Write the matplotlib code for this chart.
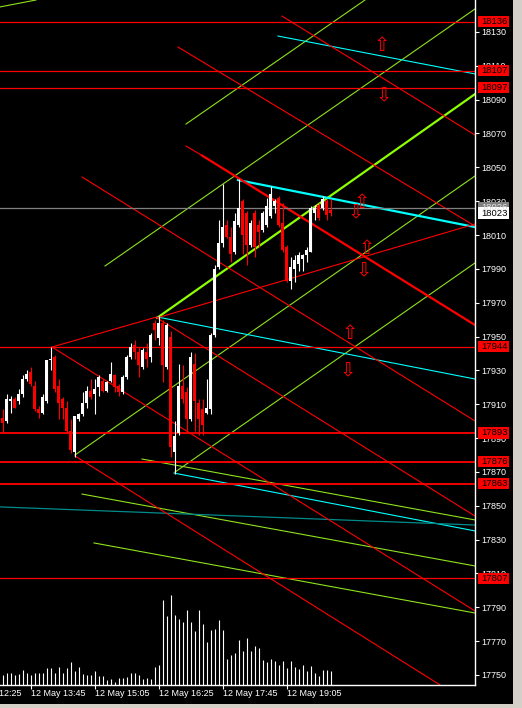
import matplotlib
matplotlib.use("Agg")
import matplotlib.pyplot as plt
from matplotlib.patches import Rectangle

plt.rcParams['font.family'] = ['Liberation Sans', 'DejaVu Sans']

# 5 minute bars, 12 May 13:10 .. 20:00
opens = [17902, 17900, 17912, 17913, 17912, 17916, 17925, 17929, 17921, 17907,
         17905, 17912, 17936, 17938, 17921, 17913, 17908, 17894, 17882, 17901,
         17904, 17911, 17918, 17916, 17920, 17924, 17918, 17924, 17927, 17921,
         17917, 17926, 17938, 17945, 17941, 17932, 17941, 17938, 17958, 17949,
         17958, 17932, 17950, 17882, 17893, 17921, 17917, 17901, 17934, 17911,
         17907, 17905, 17907, 17951, 17991, 18005, 18016, 18009, 18000, 18016,
         18030, 18023, 18004, 18023, 18016, 18013, 18016, 18021, 18027, 18032,
         18017, 18003, 17983, 17990, 17993, 17996, 17998, 18000, 18023, 18028,
         18026, 18030, 18025]
highs = [17907, 17916, 17915, 17914, 17919, 17927, 17930, 17932, 17924, 17909,
         17916, 17936, 17944, 17939, 17925, 17914, 17912, 17901, 17903, 17905,
         17917, 17921, 17925, 17925, 17927, 17925, 17924, 17935, 17928, 17922,
         17927, 17939, 17946, 17948, 17944, 17943, 17946, 17952, 17960, 17962,
         17960, 17958, 17953, 17900, 17934, 17933, 17920, 17941, 17940, 17913,
         17913, 17925, 17952, 17992, 18019, 18040, 18019, 18015, 18023, 18043,
         18031, 18024, 18019, 18025, 18019, 18024, 18032, 18039, 18031, 18033,
         18029, 18004, 17997, 17998, 18000, 17999, 18003, 18027, 18028, 18029,
         18033, 18031, 18031]
lows = [17893, 17899, 17905, 17908, 17910, 17914, 17924, 17921, 17906, 17902,
        17904, 17911, 17930, 17917, 17901, 17901, 17893, 17881, 17879, 17900,
        17903, 17908, 17913, 17904, 17915, 17917, 17917, 17923, 17917, 17915,
        17916, 17925, 17937, 17937, 17926, 17931, 17932, 17935, 17948, 17945,
        17923, 17931, 17879, 17869, 17892, 17911, 17894, 17900, 17894, 17892,
        17892, 17904, 17904, 17950, 17990, 18003, 18008, 17994, 17999, 18015,
        17999, 17992, 18003, 17997, 18003, 18012, 18015, 18020, 18023, 18015,
        18000, 17982, 17978, 17982, 17989, 17989, 17994, 18000, 18019, 18019,
        18025, 18019, 18021]
closes = [17899, 17913, 17913, 17908, 17916, 17925, 17928, 17922, 17907, 17905,
          17914, 17936, 17937, 17919, 17911, 17908, 17894, 17883, 17903, 17904,
          17911, 17918, 17914, 17919, 17926, 17918, 17923, 17928, 17920, 17917,
          17926, 17938, 17944, 17941, 17933, 17942, 17937, 17951, 17954, 17958,
          17933, 17957, 17885, 17891, 17921, 17913, 17901, 17938, 17912, 17901,
          17898, 17908, 17951, 17990, 18005, 18015, 18009, 17999, 18018, 18026,
          18010, 18004, 18017, 18003, 18012, 18023, 18027, 18034, 18030, 18016,
          18001, 17983, 17991, 17995, 17998, 17998, 18001, 18026, 18026, 18020,
          18031, 18022, 18023]
volumes = [10, 12, 12, 10, 11, 15, 12, 10, 12, 12, 12, 17, 17, 12, 18, 12, 17, 23,
           14, 18, 11, 10, 10, 14, 9, 9, 5, 6, 3, 7, 7, 8, 12, 12, 10,
           6, 7, 6, 18, 20, 85, 69, 90, 70, 66, 63, 75, 63, 54, 75, 61, 43, 55,
           56, 65, 55, 26, 30, 32, 45, 34, 47, 34, 39, 37, 25, 23, 26, 24, 20,
           24, 17, 24, 18, 16, 20, 14, 19, 12, 9, 15, 15, 14]

time_labels = ["12 May 12:25", "12 May 13:45", "12 May 15:05",
               "12 May 16:25", "12 May 17:45", "12 May 19:05"]
time_bars = [-9, 7, 23, 39, 55, 71]

levels = [18136, 18107, 18097, 17944, 17893, 17876, 17863, 17807]
ask_price = 18026
bid_price = 18023

# trend lines: ((bar, price), (bar, price))
green_lines = [((-0.67, 18144.8), (8.33, 18148.9)),
               ((45.83, 18075.6), (90.58, 18148.9)),
               ((25.58, 17991.7), (118.08, 18143.6)),
               ((18.08, 17880.0), (118.08, 18044.9)),
               ((43.08, 17869.9), (118.08, 17993.5)),
               ((34.83, 17877.6), (118.08, 17841.6)),
               ((19.83, 17856.9), (118.08, 17814.4)),
               ((22.83, 17828.0), (118.08, 17786.6))]
green_thick = [((38.58, 17961.0), (118.08, 18093.3))]
cyan_lines = [((68.83, 18127.6), (118.08, 18105.2)),
              ((38.58, 17961.6), (118.08, 17924.9)),
              ((42.83, 17869.3), (118.08, 17835.1))]
cyan_thick = [((58.83, 18042.5), (118.08, 18014.7))]
teal_lines = [((-0.67, 17849.3), (118.08, 17838.6))]
red_lines = [((43.83, 18121.1), (118.08, 18015.3)),
             ((69.83, 18139.4), (118.08, 18069.1)),
             ((45.83, 18062.6), (49.83, 18057.0)),
             ((19.83, 18044.3), (118.08, 17900.1)),
             ((38.58, 17961.0), (118.08, 17843.9)),
             ((12.33, 17943.8), (118.08, 17787.8)),
             ((18.08, 17879.4), (109.33, 17744.1)),
             ((12.33, 17943.8), (38.58, 17961.6)),
             ((38.58, 17961.0), (118.08, 18016.5))]
red_thick = [((49.83, 18057.0), (118.08, 17956.8))]

arrows_up = [(94.8, 18122), (89.8, 18029), (91.1, 18002), (86.8, 17952)]
arrows_down = [(95.3, 18092), (88.3, 18023), (90.3, 17989), (86.3, 17930)]

W, H = 522, 708
fig = plt.figure(figsize=(W / 100, H / 100), dpi=100, facecolor='black')
ax = fig.add_axes([0, 23 / H, 475 / W, 685 / H], facecolor='black')
ax2 = ax.twinx()

x0, x1 = -0.67, 118.08
ax.set_xlim(x0, x1)
ax.set_ylim(17744.05, 18148.9)


def px(p):
    # pixel column -> bar units
    return (p - 2.67) / 4


GREEN = '#8ee21e'
for seg_list, col, lw in [(green_lines, GREEN, 0.8), (green_thick, '#8cff00', 1.6),
                          (cyan_lines, '#00ffff', 0.8), (cyan_thick, '#00ffff', 1.6),
                          (teal_lines, '#008b8b', 0.9), (red_lines, '#ff0000', 0.8),
                          (red_thick, '#ff0000', 1.6)]:
    for (a, b) in seg_list:
        ax.plot([a[0], b[0]], [a[1], b[1]], color=col, lw=lw, zorder=2)

for lv in levels:
    lw = 1.3 if lv in (17893, 17876, 17863) else 0.9
    ax.axhline(lv, color='#ff0000', lw=lw, zorder=2)
ax.axhline(ask_price, color='#808080', lw=0.9, zorder=2)

for i in range(len(opens)):
    o, h, l, c = opens[i], highs[i], lows[i], closes[i]
    col = 'white' if c >= o else '#ff0000'
    ax.vlines(i, l, h, color=col, lw=0.8, zorder=3)
    ax.bar(i, max(abs(c - o), 0.8), bottom=min(o, c), width=0.7,
           color=col, lw=0, zorder=3)

for b, p in arrows_up:
    ax.text(b, p, '\u21e7', color='#ff0000', fontsize=14, ha='center',
            va='center', family='DejaVu Sans', zorder=4)
for b, p in arrows_down:
    ax.text(b, p, '\u21e9', color='#ff0000', fontsize=14, ha='center',
            va='center', family='DejaVu Sans', zorder=4)

ax2.vlines(range(len(volumes)), 0, volumes, color='white', lw=0.8)
ax2.set_ylim(0, 685)
ax2.set_yticks([])
for s in ax2.spines.values():
    s.set_visible(False)

ax.yaxis.tick_right()
ax.set_yticks(range(17750, 18131, 20))
ax.tick_params(axis='y', colors='white', length=3, width=0.8, pad=1.5,
               labelsize=6.5, direction='out')
ax.set_xticks(time_bars[1:])
ax.set_xticklabels([])
ax.tick_params(axis='x', colors='white', length=3, width=0.8, direction='out')
for s in ['left', 'top']:
    ax.spines[s].set_visible(False)
for s in ['right', 'bottom']:
    ax.spines[s].set_color('white')
    ax.spines[s].set_linewidth(1)

for b, lab in zip(time_bars, time_labels):
    ax.annotate(lab, xy=(b, 0), xycoords=('data', 'axes fraction'),
                xytext=(0, -3), textcoords='offset points', ha='left', va='top',
                color='white', fontsize=6.5, annotation_clip=False)

bx0, bx1 = px(478), px(509)
boxes = [(lv, '#ff0000', 'black') for lv in levels]
boxes += [(ask_price, '#808080', '#e0e0e0'), (bid_price, 'white', 'black')]
for lv, fc, tc in boxes:
    ax.add_patch(Rectangle((bx0, lv - 3.3), bx1 - bx0, 6.6, facecolor=fc,
                           edgecolor='none', clip_on=False, zorder=6))
    ax.text(px(481.5), lv, str(lv), color=tc, fontsize=6.8, ha='left',
            va='center', clip_on=False, zorder=7)

fig.patches.append(Rectangle((513 / W, 0), 9 / W, 1, transform=fig.transFigure,
                             facecolor='#d4d0c8', edgecolor='none'))
fig.patches.append(Rectangle((0, 0), 1, 4.3 / H, transform=fig.transFigure,
                             facecolor='#d4d0c8', edgecolor='none'))

fig.savefig('out.png', dpi=100, facecolor='black')
